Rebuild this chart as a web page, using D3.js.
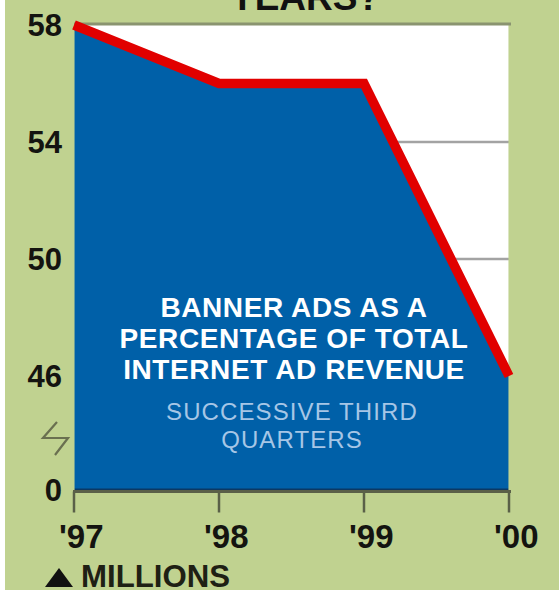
<!DOCTYPE html>
<html>
<head>
<meta charset="utf-8">
<script src="https://cdn.jsdelivr.net/npm/d3@7"></script>
<style>
  html, body { margin: 0; padding: 0; background: #c0d290; }
  svg { display: block; }
  text { font-family: "Liberation Sans", Arial, sans-serif; }
</style>
</head>
<body>
<svg id="chart" width="559" height="590"></svg>
<script>
// Banner ads as a share of total internet ad revenue, successive third quarters
const years = ["'97", "'98", "'99", "'00"];
const bannerShare = [58, 56, 56, 46];
const yTickValues = [0, 46, 50, 54, 58];
const gridValues = [54, 50, 46];
const titleText = "YEARS?";
const headline = ["BANNER ADS AS A", "PERCENTAGE OF TOTAL", "INTERNET AD REVENUE"];
const subline = ["SUCCESSIVE THIRD", "QUARTERS"];
const unitNote = "MILLIONS";

const W = 559, H = 590;
const plot = { left: 74, right: 509, top: 25, bottom: 490 };

const svg = d3.select("#chart");

const x = d3.scalePoint().domain(years).range([plot.left, plot.right]);
// broken axis: 0 sits just below 46, the upper band 46–58 is linear
const y = d3.scaleLinear().domain([0, 46, 58]).range([plot.bottom, 376, plot.top]);

const data = years.map((yr, i) => ({ yr, v: bannerShare[i] }));

// page background with thin white margin on the left
svg.append("rect").attr("width", W).attr("height", H).attr("fill", "#c0d290");
svg.append("rect").attr("width", 5).attr("height", H).attr("fill", "#ffffff");

// title, partly above the frame
svg.append("text")
  .attr("x", 305).attr("y", 10)
  .attr("text-anchor", "middle")
  .attr("font-size", 37).attr("font-weight", "bold")
  .attr("fill", "#111")
  .text(titleText);

// white plot panel
svg.append("rect")
  .attr("x", plot.left).attr("y", plot.top)
  .attr("width", plot.right - plot.left).attr("height", plot.bottom - plot.top)
  .attr("fill", "#ffffff");

// gridlines
svg.append("g").selectAll("line").data(gridValues).join("line")
  .attr("x1", plot.left).attr("x2", plot.right)
  .attr("y1", d => y(d)).attr("y2", d => y(d))
  .attr("stroke", "#a3a3a3").attr("stroke-width", 2.5);

// area under the series
const area = d3.area()
  .x(d => x(d.yr))
  .y0(y(0))
  .y1(d => y(d.v));
svg.append("path").datum(data)
  .attr("d", area)
  .attr("fill", "#0060a8");

// dark rim at the base of the area
svg.append("line")
  .attr("x1", plot.left).attr("x2", plot.right)
  .attr("y1", y(0) - 0.5).attr("y2", y(0) - 0.5)
  .attr("stroke", "#0b3864").attr("stroke-width", 2);

// side edges of the panel
svg.append("g").selectAll("line").data([plot.left - 0.5, plot.right + 0.5]).join("line")
  .attr("x1", d => d).attr("x2", d => d)
  .attr("y1", plot.top).attr("y2", plot.bottom)
  .attr("stroke", "#c0d290").attr("stroke-opacity", 0.55).attr("stroke-width", 3);

// top frame line
svg.append("line")
  .attr("x1", plot.left).attr("x2", plot.right + 2)
  .attr("y1", plot.top - 1).attr("y2", plot.top - 1)
  .attr("stroke", "#8a9470").attr("stroke-width", 3);

// red series line
const line = d3.line().x(d => x(d.yr)).y(d => y(d.v));
svg.append("path").datum(data)
  .attr("d", line)
  .attr("fill", "none")
  .attr("stroke", "#e10000")
  .attr("stroke-width", 9.5)
  .attr("stroke-linejoin", "miter")
  .attr("stroke-linecap", "butt");

// x axis
const xAxis = svg.append("g").attr("transform", `translate(0,${plot.bottom + 1.5})`);
xAxis.append("line")
  .attr("x1", plot.left - 1).attr("x2", plot.right + 2)
  .attr("stroke", "#5a6048").attr("stroke-width", 3);
xAxis.selectAll("line.tick").data(years).join("line")
  .attr("class", "tick")
  .attr("x1", d => x(d)).attr("x2", d => x(d))
  .attr("y1", 0).attr("y2", 21)
  .attr("stroke", "#5a6048").attr("stroke-width", 2.5);
xAxis.selectAll("text").data(years).join("text")
  .attr("x", d => x(d) - 15)
  .attr("y", 56)
  .attr("font-size", 33).attr("font-weight", "bold")
  .attr("fill", "#141410")
  .text(d => d);

// y axis labels
svg.append("g").selectAll("text").data(yTickValues).join("text")
  .attr("x", 62)
  .attr("y", d => y(d))
  .attr("dy", "0.36em")
  .attr("text-anchor", "end")
  .attr("font-size", 31).attr("font-weight", "bold")
  .attr("fill", "#141410")
  .text(d => d);

// axis-break mark between 0 and 46
svg.append("path")
  .attr("d", "M57,422 L43,438 L68,438 L55,455")
  .attr("fill", "none")
  .attr("stroke", "#6a7050")
  .attr("stroke-width", 2.2);

// captions inside the area
const cx = 294;
svg.append("g").selectAll("text").data(headline).join("text")
  .attr("x", cx)
  .attr("y", (d, i) => 317 + i * 31)
  .attr("text-anchor", "middle")
  .attr("font-size", 28).attr("font-weight", "bold")
  .attr("letter-spacing", 0.6)
  .attr("fill", "#ffffff")
  .text(d => d);
svg.append("g").selectAll("text").data(subline).join("text")
  .attr("x", cx - 2)
  .attr("y", (d, i) => 420 + i * 27.5)
  .attr("text-anchor", "middle")
  .attr("font-size", 24)
  .attr("letter-spacing", 1.1)
  .attr("fill", "#a6c6e6")
  .text(d => d);

// unit note
svg.append("path")
  .attr("d", "M45,587 L59,568 L73,587 Z")
  .attr("fill", "#111");
svg.append("text")
  .attr("x", 81).attr("y", 587)
  .attr("font-size", 32).attr("font-weight", "bold")
  .attr("fill", "#1e2014")
  .attr("textLength", 149)
  .attr("lengthAdjust", "spacingAndGlyphs")
  .text(unitNote);
</script>
</body>
</html>
